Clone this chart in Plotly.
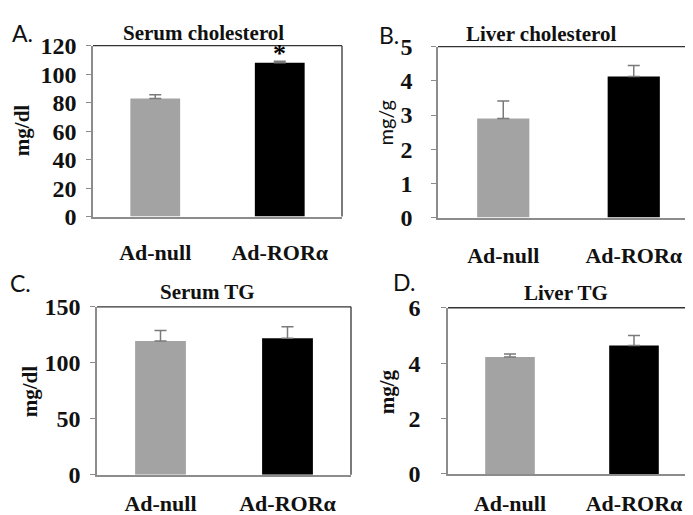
import plotly.graph_objects as go

categories = ["Ad-null", "Ad-RORα"]

serum_chol = [83, 108]
serum_chol_err = [2.5, 1.0]
liver_chol = [2.9, 4.13]
liver_chol_err = [0.51, 0.32]
serum_tg = [119.5, 122]
serum_tg_err = [9.3, 10.3]
liver_tg = [4.22, 4.64]
liver_tg_err = [0.11, 0.36]

bar_colors = ["#a3a3a3", "#000000"]
SERIF = "Liberation Serif, Times New Roman, serif"
SANS = "Lato, Open Sans, sans-serif"

panels = [
    dict(vals=serum_chol, err=serum_chol_err, rng=[0, 120], dtick=20,
         xd=[85/693, 334/693], yd=[1-206/515, 1-26/515], standoff=5, xlen=15),
    dict(vals=liver_chol, err=liver_chol_err, rng=[0, 5], dtick=1,
         xd=[430/693, 691/693], yd=[1-207/515, 1-27/515], standoff=14, xlen=17),
    dict(vals=serum_tg, err=serum_tg_err, rng=[0, 150], dtick=50,
         xd=[89/693, 343/693], yd=[1-478/515, 1-301/515], standoff=5, xlen=8),
    dict(vals=liver_tg, err=liver_tg_err, rng=[0, 6], dtick=2,
         xd=[440/693, 688/693], yd=[1-477/515, 1-302/515], standoff=16, xlen=9),
]

fig = go.Figure()
layout = dict(width=693, height=515, margin=dict(l=0, r=0, t=0, b=0),
              paper_bgcolor="white", plot_bgcolor="white", showlegend=False,
              bargap=0.6)
shapes = []
for i, p in enumerate(panels, start=1):
    sfx = "" if i == 1 else str(i)
    fig.add_trace(go.Bar(
        x=list(range(len(categories))), y=p["vals"],
        marker=dict(color=bar_colors, line=dict(width=0)),
        width=0.4,
        error_y=dict(type="data", symmetric=False, array=p["err"],
                     arrayminus=[0, 0], color="#7a7a7a", thickness=1.5, width=6),
        xaxis="x" + sfx, yaxis="y" + sfx))
    layout["xaxis" + sfx] = dict(
        domain=p["xd"], anchor="y" + sfx, range=[-0.5, 1.5],
        tickvals=list(range(len(categories))), ticktext=categories,
        ticks="outside", ticklen=p["xlen"], tickcolor="rgba(0,0,0,0)",
        showline=True, linecolor="#8c8c8c", linewidth=1.5,
        showgrid=False, zeroline=False,
        tickfont=dict(family=SERIF, size=22, color="#111", weight="bold"))
    layout["yaxis" + sfx] = dict(
        domain=p["yd"], anchor="x" + sfx, range=p["rng"], dtick=p["dtick"],
        ticks="outside", ticklen=5, tickcolor="#8c8c8c", tickwidth=1.2,
        showline=True, linecolor="#8c8c8c", linewidth=1.5,
        showgrid=False, zeroline=False, ticklabelstandoff=p["standoff"],
        tickfont=dict(family=SERIF, size=24, color="#111", weight="bold"))
    xr = "x" + sfx + " domain"
    yr = "y" + sfx + " domain"
    shapes.append(dict(type="line", xref=xr, yref=yr, x0=0, x1=1, y0=1, y1=1,
                       line=dict(color="#333", width=1.3)))
    shapes.append(dict(type="line", xref=xr, yref=yr, x0=1, x1=1, y0=0, y1=1,
                       line=dict(color="#333", width=1.3)))

layout["shapes"] = shapes

ann = []
def txt(t, x, y, font, angle=0):
    ann.append(dict(text=t, x=x / 693, y=1 - y / 515, xref="paper", yref="paper",
                    showarrow=False, xanchor="center", yanchor="middle",
                    textangle=angle, font=font))

tfont = dict(family=SERIF, size=21, color="#111")
txt("<b>Serum cholesterol</b>", 195, 13, tfont)
txt("<b>Liver cholesterol</b>", 533, 14, tfont)
txt("<b>Serum TG</b>", 199, 285, tfont)
txt("<b>Liver TG</b>", 558, 286, tfont)

lfont = dict(family=SANS, size=23, color="#111")
txt("A.", 14, 13, lfont)
txt("B.", 381, 15, lfont)
txt("C.", 12, 276, lfont)
txt("D.", 396, 275, lfont)

afont = dict(family=SERIF, size=21, color="#111")
txt("<b>mg/dl</b>", 14, 115, afont, -90)
txt("mg/g", 377, 108, dict(family=SANS, size=20, color="#111"), -90)
txt("<b>mg/dl</b>", 22, 390, afont, -90)
txt("<b>mg/g</b>", 379, 391, afont, -90)

ann.append(dict(text="<b>*</b>", x=1, y=serum_chol[1], xref="x", yref="y",
                showarrow=False, xanchor="center", yanchor="middle", yshift=9,
                font=dict(family=SERIF, size=26, color="#000")))
layout["annotations"] = ann

fig.update_layout(**layout)
fig.write_html("out.html")
